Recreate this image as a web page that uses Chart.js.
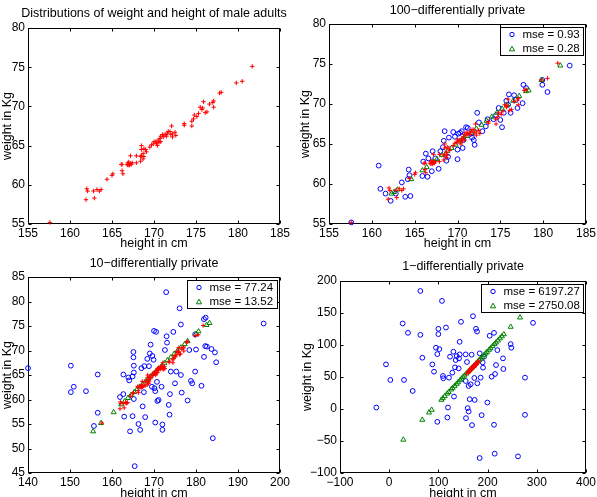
<!DOCTYPE html>
<html><head><meta charset="utf-8">
<script src="https://cdn.jsdelivr.net/npm/chart.js@4"></script>
<style>
html,body{margin:0;padding:0;background:#fff;overflow:hidden;width:597px;height:497px;position:relative;}
canvas{position:absolute;}
</style></head><body>
<canvas id="c1" width="308" height="251" style="left:0px;top:0px"></canvas>
<canvas id="c2" width="319" height="251" style="left:298px;top:0px"></canvas>
<canvas id="c3" width="308" height="251" style="left:0px;top:250px"></canvas>
<canvas id="c4" width="326" height="251" style="left:300px;top:250px"></canvas>
<script>
// ---- titles / labels ----
const titles = ['Distributions of weight and height of male adults', '100\u2212differentially private', '10\u2212differentially private', '1\u2212differentially private'];
const xLabel = 'height in cm';
const yLabel = 'weight in Kg';
const legend2 = ['mse = 0.93', 'mse = 0.28'];
const legend3 = ['mse = 77.24', 'mse = 13.52'];
const legend4 = ['mse = 6197.27', 'mse = 2750.08'];

// ---- tick labels ----
const xTicksA = [155, 160, 165, 170, 175, 180, 185];
const yTicksA = [55, 60, 65, 70, 75, 80];
const xTicks3 = [140, 150, 160, 170, 180, 190, 200];
const yTicks3 = [45, 50, 55, 60, 65, 70, 75, 80, 85];
const xTicks4 = [-100, 0, 100, 200, 300, 400];
const yTicks4 = [-100, -50, 0, 50, 100, 150, 200];

// ---- original data (height cm, weight kg) ----
const original = [
[157.6,55.2],[161.9,58.1],[162.0,59.5],[162.1,59.2],[162.9,58.3],[162.8,59.2],[163.2,59.4],[163.5,59.2],[163.7,59.4],[164.4,60.7],
[165.1,61.4],[165.0,61.2],[166.1,62.6],[166.2,62.6],[166.2,61.8],[166.3,61.4],[166.8,62.6],[166.9,62.8],[167.0,62.6],[167.1,62.5],
[167.2,62.7],[167.0,62.9],[167.4,62.8],[167.2,63.7],[167.9,62.8],[167.9,63.7],[168.4,63.0],[168.5,63.7],[168.7,64.0],[168.8,63.6],
[168.5,64.5],[168.5,65.0],[168.8,64.6],[169.0,64.5],[169.1,64.2],[168.4,63.6],[168.7,63.3],[169.5,64.8],[169.7,65.1],[170.0,65.5],
[170.2,65.5],[170.3,65.3],[170.4,65.0],[170.5,65.7],[170.7,65.9],[170.8,66.2],[171.0,66.4],[170.8,65.5],[171.2,66.4],[171.4,66.4],
[171.5,66.2],[171.6,66.6],[171.7,66.8],[171.9,66.8],[172.1,67.5],[172.0,66.4],[172.2,66.5],[172.5,66.7],[172.6,66.3],[172.2,66.1],
[173.6,67.8],[173.6,67.6],[174.5,67.5],[174.5,68.1],[174.7,68.4],[174.8,68.9],[175.1,68.7],[175.3,69.1],[175.5,69.9],[175.7,69.6],
[175.8,69.8],[175.9,70.6],[176.1,69.2],[176.3,69.3],[176.6,70.3],[177.0,70.5],[177.1,70.7],[177.1,69.9],[177.8,71.7],[178.0,71.8],
[179.8,73.0],[180.5,73.2],[181.7,75.1],[169.9,65.2],[170.6,65.4],[171.1,66.1],[166.9,62.5],[167.3,62.6]
];

// ---- 100-differentially private ----
const noisy100 = [
[157.6,55.2],[160.8,62.3],[161.0,59.4],[161.6,58.8],[162.2,57.9],[162.8,58.8],[163.5,60.2],[163.9,58.4],[164.5,58.5],[164.2,60.6],
[164.3,61.8],[164.4,61.1],[165.9,61.0],[166.0,62.8],[166.3,63.8],[166.5,60.9],[166.6,63.2],[167.0,61.6],[167.1,64.1],[167.4,63.2],
[167.8,61.9],[168.0,64.1],[168.3,64.6],[168.4,65.4],[168.5,66.6],[168.7,62.9],[168.9,63.4],[169.0,65.8],[169.5,66.5],[169.7,65.9],
[170.0,64.3],[170.0,63.1],[170.1,66.3],[170.3,66.4],[170.5,66.6],[170.6,64.5],[170.7,65.5],[171.0,67.1],[171.2,67.0],[171.6,66.3],
[171.7,65.8],[171.9,65.5],[172.0,64.9],[172.3,68.9],[172.5,67.7],[172.9,66.6],[173.3,67.2],[173.5,68.1],[174.2,68.1],[174.5,68.6],
[174.8,69.5],[175.0,68.0],[175.2,67.1],[175.4,68.9],[175.7,70.4],[175.9,69.9],[176.0,71.2],[176.2,68.9],[176.6,71.1],[176.8,70.5],
[177.0,69.5],[177.6,70.1],[177.7,72.4],[178.0,72.0],[179.9,72.4],[180.5,71.5],[183.1,74.8],[179.9,73.0]
];
const proj100 = [
[162.3,58.8],[162.6,59.0],[163.0,59.3],[164.6,60.6],[165.9,61.7],[166.4,62.1],[167.2,62.8],[167.6,63.1],[168.2,63.6],[168.8,64.1],
[169.3,64.5],[169.8,64.9],[170.2,65.3],[170.7,65.7],[171.1,66.0],[171.6,66.4],[172.2,66.9],[172.8,67.4],[173.4,67.9],[174.0,68.4],
[174.6,68.9],[175.2,69.4],[175.8,69.9],[176.5,70.4],[177.2,71.0],[178.0,71.6],[178.3,71.7],[179.8,73.0],[182.0,74.8]
];

// ---- 10-differentially private ----
const noisy10 = [
[140.0,66.4],[150.2,66.9],[150.2,61.5],[150.9,62.6],[153.8,61.7],[156.6,65.1],[156.6,57.3],[155.7,54.6],[161.9,60.5],[162.7,65.1],
[162.7,61.1],[162.9,56.5],[163.9,64.5],[164.1,63.9],[164.3,53.5],[164.9,64.7],[164.9,56.6],[165.1,69.7],[165.1,68.6],[165.2,66.9],
[165.2,65.5],[165.2,60.1],[165.4,46.4],[166.3,55.0],[166.7,53.8],[167.0,66.4],[167.3,58.6],[167.6,61.5],[167.7,66.8],[167.9,56.4],
[168.4,68.3],[168.8,66.8],[169.0,69.4],[169.2,71.2],[169.5,62.6],[169.6,68.9],[169.9,68.1],[170.0,74.0],[170.1,62.3],[170.3,61.7],
[170.5,73.8],[170.3,55.3],[170.7,63.6],[170.8,59.7],[171.1,59.9],[171.8,62.6],[172.0,54.9],[172.0,53.8],[172.6,70.1],[172.9,81.9],
[173.0,72.9],[173.1,71.6],[173.5,58.9],[173.7,56.9],[173.8,61.1],[174.0,65.7],[174.6,73.8],[175.0,63.3],[175.3,65.7],[176.1,78.6],
[176.4,75.3],[176.4,65.0],[176.6,61.4],[178.0,59.8],[178.4,70.1],[178.8,63.8],[179.1,63.3],[179.8,65.7],[179.8,73.3],[180.0,70.2],
[181.3,62.8],[181.9,68.7],[181.9,76.4],[182.3,76.7],[182.2,70.9],[182.6,70.8],[183.7,70.3],[184.0,52.1],[184.5,69.6],[184.8,67.6],
[196.1,75.5]
];
const proj10 = [
[155.5,53.5],[157.4,55.2],[160.4,57.4],[162.2,59.0],[163.0,59.6],[163.8,60.3],[164.5,60.9],[165.3,61.5],[166.0,62.1],[166.6,62.6],
[167.3,63.1],[168.0,63.7],[168.6,64.2],[169.2,64.7],[169.8,65.2],[170.5,65.8],[171.1,66.3],[171.8,66.8],[172.5,67.4],[173.2,68.0],
[174.0,68.6],[174.8,69.3],[175.6,69.9],[176.4,70.6],[177.3,71.3],[178.0,71.9],[180.0,73.4],[180.6,73.9],[182.5,75.2],[183.2,75.6]
];

// ---- 1-differentially private ----
const noisy1 = [
[-26.2,2.3],[-6.5,69.7],[2.3,45.4],[27.4,133.6],[30.1,45.4],[38.2,119.0],[47.7,28.2],[63.3,184.4],[63.3,115.9],[67.3,80.1],
[87.7,69.7],[91.1,58.3],[95.1,95.7],[99.9,125.3],[99.9,117.0],[101.9,93.6],[97.8,85.8],[97.8,-20.0],[107.3,168.9],[109.3,51.6],
[110.0,48.0],[115.4,127.3],[119.5,2.3],[121.5,49.0],[123.6,81.7],[118.2,-13.3],[128.3,56.8],[130.4,89.5],[131.7,19.4],[133.7,65.1],
[135.1,76.5],[137.1,82.7],[141.9,79.1],[141.2,63.5],[143.2,105.0],[143.2,85.3],[145.9,136.2],[155.4,85.3],[155.4,43.8],[156.1,-14.3],
[158.1,73.4],[159.5,1.3],[161.5,-3.9],[163.6,15.3],[161.5,36.0],[165.6,38.6],[167.6,84.8],[168.3,-25.2],[170.3,145.0],[173.0,48.5],
[173.7,14.2],[176.4,125.3],[178.5,121.1],[179.1,40.2],[183.9,-76.6],[183.9,86.9],[185.9,49.0],[187.9,-9.6],[190.0,72.9],[190.7,64.6],
[192.7,81.7],[199.5,10.1],[204.2,114.4],[208.3,50.5],[213.0,119.0],[213.0,-24.7],[214.4,-69.8],[215.1,54.7],[217.1,68.7],[219.8,92.0],
[231.3,79.1],[232.0,62.5],[246.9,101.4],[248.2,95.7],[261.8,-74.0],[276.0,49.0],[276.0,-9.1],[292.3,134.6]
];
const proj1 = [
[28.7,-48.0],[67.3,-16.9],[80.9,-5.5],[86.3,-1.3],[106,14.3],[109,16.8],[113,20.0],[118,24.0],[121,26.4],[126,30.5],
[129,32.9],[133,36.1],[137,39.3],[140,41.7],[144,45.0],[147,47.4],[150,49.8],[153,52.2],[157,55.4],[161,58.7],
[165,61.9],[169,65.1],[172,67.5],[176,70.8],[180,74.0],[183,76.4],[186,78.8],[189,81.2],[193,84.5],[196,86.9],
[199,89.3],[203,92.5],[206,94.9],[210,98.2],[214,101.4],[217,103.8],[221,107.0],[225,110.3],[229,113.5],[233,116.7],
[246.9,128.4],[265.9,142.9]
];

// ---- styling ----
const FONT = '"Liberation Sans", Arial, Helvetica, sans-serif';
Chart.defaults.font.family = FONT;
Chart.defaults.color = '#000';
const RED = 'rgb(255,0,0)', BLUE = 'rgb(0,0,255)', GREEN = 'rgb(0,128,0)';
const toPts = arr => arr.map(([x, y]) => ({x, y}));
const fmt = v => String(v).replace('-', '\u2212');

function redSet(d) {
  return {data: toPts(d), pointStyle: 'cross', pointRadius: 2.2, pointBorderWidth: 1,
    borderColor: RED, backgroundColor: RED, showLine: false, order: 1, clip: false};
}
function blueSet(d, label) {
  return {label, data: toPts(d), pointStyle: 'circle', pointRadius: 2.4, pointBorderWidth: 1,
    borderColor: BLUE, backgroundColor: 'rgba(0,0,0,0)', showLine: false, order: 3, clip: false, lg: 'circle'};
}
function greenSet(d, label) {
  return {label, data: toPts(d), pointStyle: 'triangle', pointRadius: 2.9, pointBorderWidth: 1,
    borderColor: GREEN, backgroundColor: 'rgba(0,0,0,0)', showLine: false, order: 2, clip: false, lg: 'triangle'};
}

const framePlugin = {
  id: 'frame',
  beforeDatasetsDraw(chart) {
    const {ctx, chartArea: a, scales} = chart;
    const L = Math.round(a.left) + 0.5, R = Math.round(a.right) - 0.5;
    const T = Math.round(a.top) + 0.5, B = Math.round(a.bottom) - 0.5;
    ctx.save();
    ctx.strokeStyle = '#000'; ctx.lineWidth = 1;
    ctx.strokeRect(L, T, R - L, B - T);
    ctx.beginPath();
    const tl = 3;
    scales.x.ticks.forEach(t => {
      const px = Math.round(scales.x.getPixelForValue(t.value)) + 0.5;
      ctx.moveTo(px, B); ctx.lineTo(px, B - tl);
      ctx.moveTo(px, T); ctx.lineTo(px, T + tl);
    });
    scales.y.ticks.forEach(t => {
      const py = Math.round(scales.y.getPixelForValue(t.value)) + 0.5;
      ctx.moveTo(L, py); ctx.lineTo(L + tl, py);
      ctx.moveTo(R, py); ctx.lineTo(R - tl, py);
    });
    ctx.stroke();
    ctx.restore();
  },
  afterDraw(chart) {
    const items = chart.data.datasets.filter(d => d.label);
    if (!items.length) return;
    const {ctx, chartArea: a} = chart;
    ctx.save();
    ctx.font = '11.5px ' + FONT;
    const tw = Math.max(...items.map(d => ctx.measureText(d.label).width));
    const bw = Math.round(tw + 27), bh = 29;
    const bx = Math.round(a.right) - 2 - bw, by = Math.round(a.top) + 3;
    ctx.fillStyle = '#fff'; ctx.fillRect(bx, by, bw, bh);
    ctx.strokeStyle = '#000'; ctx.lineWidth = 1;
    ctx.strokeRect(bx + 0.5, by + 0.5, bw - 1, bh - 1);
    items.forEach((d, i) => {
      const cy = by + 7.5 + i * 14.3, mx = bx + 12;
      ctx.strokeStyle = d.borderColor;
      ctx.beginPath();
      if (d.lg === 'circle') { ctx.arc(mx, cy, 2.2, 0, Math.PI * 2); }
      else { ctx.moveTo(mx, cy - 2.6); ctx.lineTo(mx - 2.6, cy + 2); ctx.lineTo(mx + 2.6, cy + 2); ctx.closePath(); }
      ctx.stroke();
      ctx.fillStyle = '#000'; ctx.textBaseline = 'middle'; ctx.textAlign = 'left';
      ctx.fillText(d.label, bx + 22.5, cy);
    });
    ctx.restore();
  }
};

function makeChart(p) {
  const tickFont = {size: 12, family: FONT};
  const labFont = {size: 12.5, family: FONT, lineHeight: 1.2};
  return new Chart(document.getElementById(p.id), {
    type: 'scatter',
    data: {datasets: p.sets},
    plugins: [framePlugin],
    options: {
      responsive: false, animation: false, events: [],
      layout: {padding: {left: 0, right: 0, top: 0, bottom: 0}},
      plugins: {
        legend: {display: false}, tooltip: {enabled: false},
        title: {display: true, text: p.title, color: '#000', font: {size: 12.5, family: FONT, weight: 'normal', lineHeight: 1.2},
          padding: {top: p.tTop, bottom: p.tBot}}
      },
      scales: {
        x: {
          type: 'linear', position: 'bottom', min: p.xt[0], max: p.xt[p.xt.length - 1],
          afterBuildTicks: s => { s.ticks = p.xt.map(v => ({value: v})); },
          afterFit: s => { s.height = p.xH; s.paddingLeft = 0; s.paddingRight = 0; s.paddingTop = 0; s.paddingBottom = 0; },
          ticks: {font: tickFont, color: '#000', padding: 2, maxRotation: 0, autoSkip: false, callback: v => fmt(v)},
          grid: {display: false, drawTicks: false}, border: {display: false},
          title: {display: true, text: xLabel, font: labFont, color: '#000', padding: 0}
        },
        y: {
          type: 'linear', position: 'left', min: p.yt[0], max: p.yt[p.yt.length - 1],
          afterBuildTicks: s => { s.ticks = p.yt.map(v => ({value: v})); },
          afterFit: s => { s.width = p.yW; s.paddingLeft = 0; s.paddingRight = 0; s.paddingTop = 0; s.paddingBottom = 0; },
          ticks: {font: tickFont, color: '#000', padding: 3, autoSkip: false, callback: v => fmt(v)},
          grid: {display: false, drawTicks: false}, border: {display: false},
          title: {display: true, text: yLabel, font: labFont, color: '#000', padding: 0}
        },
        spacer: {
          type: 'linear', position: 'right', display: true,
          afterFit: s => { s.width = p.rW; s.paddingLeft = 0; s.paddingRight = 0; s.paddingTop = 0; s.paddingBottom = 0; },
          ticks: {display: false}, grid: {display: false, drawTicks: false}, border: {display: false}
        }
      }
    }
  });
}

makeChart({id: 'c1', title: titles[0], xt: xTicksA, yt: yTicksA, yW: 28, xH: 27, rW: 28, tTop: 6.5, tBot: 6.5,
  sets: [redSet(original)]});
makeChart({id: 'c2', title: titles[1], xt: xTicksA, yt: yTicksA, yW: 31, xH: 27, rW: 31, tTop: 3, tBot: 6,
  sets: [blueSet(noisy100, legend2[0]), greenSet(proj100, legend2[1]), redSet(original)]});
makeChart({id: 'c3', title: titles[2], xt: xTicks3, yt: yTicks3, yW: 28, xH: 28, rW: 28, tTop: 6, tBot: 6,
  sets: [blueSet(noisy10, legend3[0]), greenSet(proj10, legend3[1]), redSet(original)]});
makeChart({id: 'c4', title: titles[3], xt: xTicks4, yt: yTicks4, yW: 40, xH: 28, rW: 40, tTop: 9.5, tBot: 6.5,
  sets: [blueSet(noisy1, legend4[0]), greenSet(proj1, legend4[1]), redSet(original)]});
</script>
</body></html>
